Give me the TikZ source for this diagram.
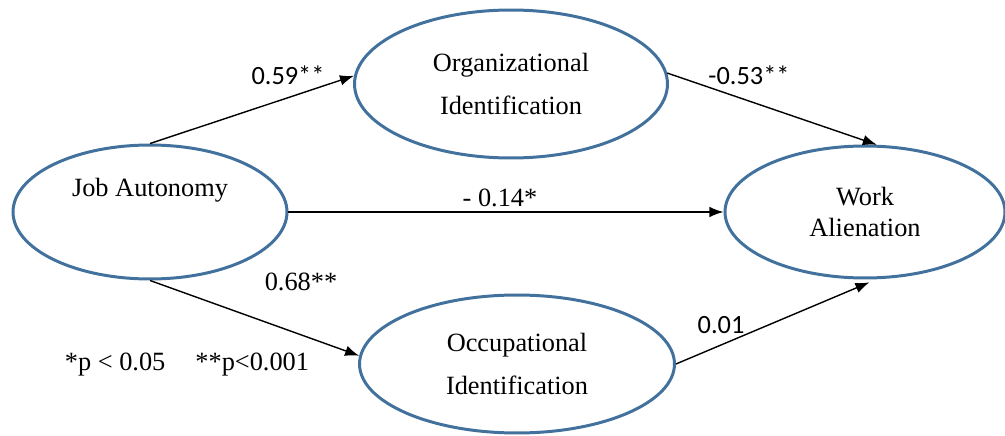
\documentclass[tikz,border=0pt]{standalone}
\usepackage{fontspec}
\setmainfont{Liberation Serif}
\newfontfamily\calibri{Carlito}
\usetikzlibrary{shapes.geometric,arrows.meta}
\definecolor{ovalblue}{RGB}{65,113,156}
\tikzset{>={Latex[length=8pt,width=6pt]}}
\tikzset{ construct/.style={ellipse,draw=ovalblue,line width=1.7pt,align=center,inner sep=0pt} }
\tikzset{ effect/.style={->,line width=0.8pt} }
\tikzset{ coef/.style={font=\fontsize{15}{18}\selectfont}, coefsans/.style={font=\fontsize{15}{18}\selectfont\calibri} }

\begin{document}
\begin{tikzpicture}[x=0.02cm,y=-0.02cm,font=\fontsize{15}{24}\selectfont]
  \useasboundingbox (0,0) rectangle (1005,436);
  % constructs
  \node[construct,minimum width=5.48cm,minimum height=2.68cm] (ja)  at (150,212) {Job Autonomy\\[4pt]\mbox{}};
  \node[construct,minimum width=6.26cm,minimum height=2.96cm] (oi)  at (511,84)  {Organizational\\Identification};
  \node[construct,minimum width=6.3cm,minimum height=2.76cm]  (occ) at (517,364) {Occupational\\Identification};
  \node[construct,minimum width=5.6cm,minimum height=2.64cm]  (wa)  at (865,212) {Work\\[-6pt]Alienation};
  % paths
  \draw[effect] (ja.north) -- (oi.177);
  \draw[effect] (oi.4) -- (wa.80);
  \draw[effect] (ja.east) -- (ja.east -| wa.west);
  \draw[effect] (ja.south) -- (occ.177);
  \draw[effect,shorten >=0.16cm] (occ.east) -- (wa.-80);
  % coefficients
  \node[coefsans] (b-ja-oi)  at (288,75)  {0.59**};
  \node[coefsans] (b-oi-wa)  at (749,75)  {-0.53**};
  \node[coef]     (b-ja-wa)  at (500,198) {- 0.14*};
  \node[coef]     (b-ja-occ) at (301,282) {0.68**};
  \node[coefsans] (b-occ-wa) at (721,325) {0.01};
  % significance
  \node[coef] (sig) at (187,365) {*p < 0.05\hspace{0.6cm}**p<0.001};
\end{tikzpicture}
\end{document}
